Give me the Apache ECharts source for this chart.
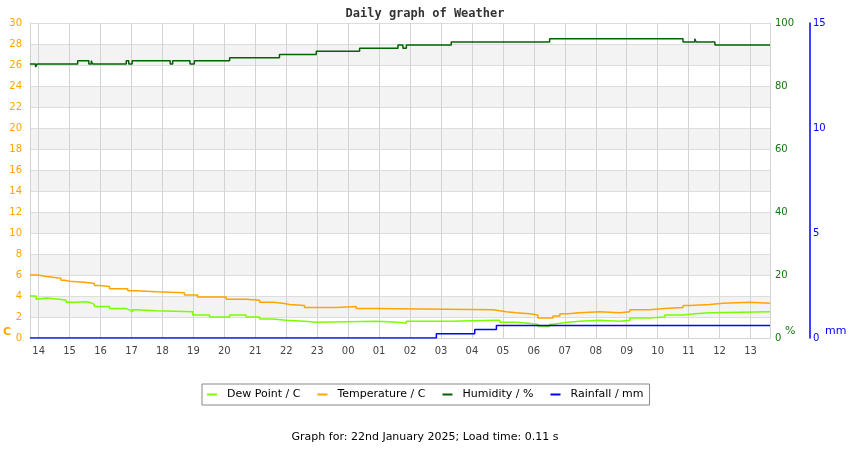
<!DOCTYPE html>
<html>
<head>
<meta charset="utf-8">
<script src="https://cdn.jsdelivr.net/npm/echarts@6/dist/echarts.min.js"></script>
<style>html,body{margin:0;padding:0;background:#fff}#c{width:850px;height:450px}</style>
</head>
<body>
<div id="c"></div>
<script>
// Hours counted from 00:00 on 21 January 2025
var startHour = 13.72, endHour = 37.63;

var tempHours = [13.72,13.97,14.24,14.72,14.85,14.99,15.48,15.80,15.96,16.29,16.88,17.15,17.80,18.71,19.14,20.06,20.70,21.14,21.57,21.89,22.11,22.59,23.62,24.26,24.91,28.68,28.90,29.11,29.43,29.87,30.13,30.62,30.84,31.10,31.48,32.13,32.77,33.10,33.74,34.23,34.82,35.04,35.68,36.11,36.98,37.63];
var tempValues = [6.0,5.85,5.7,5.5,5.4,5.3,5.2,5.0,4.9,4.7,4.5,4.4,4.3,4.1,3.9,3.7,3.6,3.4,3.3,3.2,3.1,2.9,3.0,2.8,2.7,2.6,2.5,2.4,2.3,2.2,1.9,2.1,2.3,2.4,2.5,2.4,2.5,2.7,2.8,2.9,3.1,3.2,3.3,3.4,3.3,3.3];

var dewHours = [13.72,13.92,13.97,14.24,14.67,14.89,15.21,15.26,15.53,15.69,15.80,16.29,16.83,16.95,17.04,17.15,17.80,18.98,19.52,20.17,20.70,21.14,21.57,22.00,22.59,22.97,24.91,25.61,25.88,27.33,28.68,28.90,29.43,29.81,30.13,30.51,30.62,30.84,31.10,31.48,32.13,32.77,33.10,33.74,34.23,34.82,34.86,35.20,35.68,37.63];
var dewValues = [4.0,3.7,3.8,3.7,3.6,3.4,3.3,3.45,3.35,3.2,3.0,2.8,2.65,2.5,2.7,2.6,2.5,2.2,2.0,2.2,2.0,1.8,1.7,1.6,1.5,1.6,1.5,1.4,1.6,1.7,1.7,1.5,1.4,1.3,1.1,1.3,1.4,1.5,1.6,1.7,1.6,1.7,1.9,2.0,2.2,2.05,2.3,2.4,2.5,2.5];

var humHours = [13.72,13.90,13.95,15.26,15.62,15.70,15.74,16.83,16.91,17.02,18.25,18.33,18.89,19.03,20.17,21.78,22.97,24.37,25.61,25.77,25.88,27.33,30.51,34.82,35.20,35.24,35.85,37.63];
var humValues = [87,86,87,88,87,88,87,88,87,88,87,88,87,88,89,90,91,92,93,92,93,94,95,94,95,94,93,93];

var rainHours = [13.72,26.85,28.09,28.79,37.63];
var rainValues = [0,0.2,0.4,0.6,0.6];

var seriesNames = ['Dew Point / C','Temperature / C','Humidity / %','Rainfall / mm'];
var tempTicks = {min:0, max:30, interval:2};
var humTicks = {min:0, max:100, interval:20};
var rainTicks = {min:0, max:15, interval:5};

var base = new Date(2025,0,21,0,0,0).getTime();
function toTs(h){ return base + Math.round(h*3600000); }
function pairs(hs, vs){ return hs.map(function(h,i){ return [toTs(h), vs[i]]; }); }
function pad(n){ return (n<10?'0':'')+n; }

var font = 'DejaVu Sans';
var chart = echarts.init(document.getElementById('c'), null, {renderer:'canvas'});
chart.setOption({
  animation:false,
  backgroundColor:'#fff',
  title:[
    {text:'Daily graph of Weather', left:'center', top:3,
     textStyle:{fontFamily:'DejaVu Sans Mono', fontWeight:'bold', fontSize:12, color:'#333'}},
    {text:'Graph for: 22nd January 2025; Load time: 0.11 s', left:'center', top:427,
     textStyle:{fontFamily:font, fontWeight:'normal', fontSize:11, color:'#000'}}
  ],
  legend:{
    data:seriesNames, left:202, top:384, orient:'horizontal',
    padding:[5,6,5,5], itemGap:17, itemWidth:10, itemHeight:2, icon:'rect',
    borderColor:'#888', borderWidth:1,
    textStyle:{fontFamily:font, fontSize:11, color:'#000', padding:[0,0,0,5]}
  },
  grid:{left:30, right:80, top:23, bottom:112, containLabel:false},
  xAxis:{
    type:'time', min:toTs(startHour), max:toTs(endHour),
    minInterval:3600000, maxInterval:3600000, splitNumber:30,
    axisLine:{show:true, lineStyle:{color:'#d3d3d3', width:1}},
    axisTick:{show:false},
    axisLabel:{show:true, margin:8, color:'#444', fontFamily:font, fontSize:10,
      showMinLabel:false, showMaxLabel:false,
      formatter:function(v){ return pad(new Date(v).getHours()); }},
    splitLine:{show:true, lineStyle:{color:'#d3d3d3', width:1}}
  },
  yAxis:[
    {type:'value', position:'left', min:tempTicks.min, max:tempTicks.max, interval:tempTicks.interval,
     axisLine:{show:true, lineStyle:{color:'#d3d3d3'}}, axisTick:{show:false},
     axisLabel:{margin:8, color:'#ffa500', fontFamily:font, fontSize:10},
     splitLine:{show:true, lineStyle:{color:'#dddddd', width:1}},
     splitArea:{show:true, areaStyle:{color:['rgba(255,255,255,0)','#f3f3f3']}}},
    {type:'value', position:'right', min:humTicks.min, max:humTicks.max, interval:humTicks.interval,
     axisLine:{show:true, lineStyle:{color:'#d3d3d3'}}, axisTick:{show:false},
     axisLabel:{margin:5, color:'#117711', fontFamily:font, fontSize:10},
     splitLine:{show:false}},
    {type:'value', position:'right', offset:40, min:rainTicks.min, max:rainTicks.max, interval:rainTicks.interval,
     axisLine:{show:true, lineStyle:{color:'#0000ff', width:1.5}}, axisTick:{show:false},
     axisLabel:{margin:3, color:'#0000ff', fontFamily:font, fontSize:10},
     splitLine:{show:false}}
  ],
  graphic:[
    {type:'text', left:3, top:327, style:{text:'C', fill:'#ffa500', font:'bold 11px DejaVu Sans'}},
    {type:'text', left:785, top:326, style:{text:'%', fill:'#117711', font:'11px DejaVu Sans'}},
    {type:'text', left:825, top:326, style:{text:'mm', fill:'#0000ff', font:'11px DejaVu Sans'}}
  ],
  series:[
    {name:seriesNames[0], type:'line', step:'end', yAxisIndex:0, showSymbol:false, data:pairs(dewHours,dewValues),
     lineStyle:{color:'#7cfc00', width:1.5}, itemStyle:{color:'#7cfc00'}},
    {name:seriesNames[1], type:'line', step:'end', yAxisIndex:0, showSymbol:false, data:pairs(tempHours,tempValues),
     lineStyle:{color:'#ffa500', width:1.5}, itemStyle:{color:'#ffa500'}},
    {name:seriesNames[2], type:'line', step:'end', yAxisIndex:1, showSymbol:false, data:pairs(humHours,humValues),
     lineStyle:{color:'#006400', width:1.5}, itemStyle:{color:'#006400'}},
    {name:seriesNames[3], type:'line', step:'end', yAxisIndex:2, showSymbol:false, data:pairs(rainHours,rainValues),
     lineStyle:{color:'#0000ff', width:1.5}, itemStyle:{color:'#0000ff'}}
  ]
});
</script>
</body>
</html>
